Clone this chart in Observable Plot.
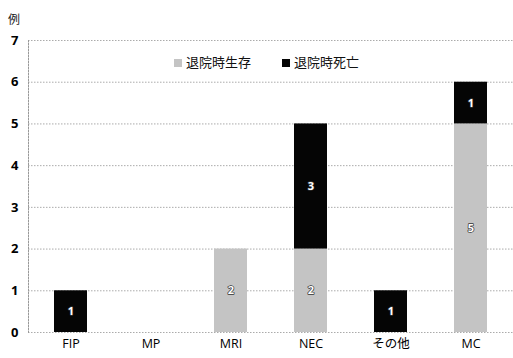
<!DOCTYPE html>
<html><head><meta charset="utf-8">
<script src="https://cdn.jsdelivr.net/npm/d3@7"></script>
<script src="https://cdn.jsdelivr.net/npm/@observablehq/plot@0.6"></script>
<style>
body{margin:0;background:#fff;font-family:"Noto Sans CJK JP","Open Sans",sans-serif;}
#wrap{position:relative;width:513px;height:358px;}
#unit{position:absolute;left:8px;top:10px;font-size:12px;color:#222;}
#legend{position:absolute;left:174px;top:52px;font-size:13px;color:#111;display:flex;align-items:center;gap:31px;white-space:nowrap;}
#legend span.sw{display:inline-block;width:8px;height:8px;margin-right:4px;vertical-align:middle;}
</style></head>
<body><div id="wrap"><div id="unit">例</div><div id="legend"></div></div>
<script>
const categories = ["FIP","MP","MRI","NEC","その他","MC"];
const seriesNames = ["退院時生存","退院時死亡"];
const survived = [0,0,2,2,0,5];
const died = [1,0,0,3,1,1];
const yTicks = [0,1,2,3,4,5,6,7];
const colors = ["#c4c4c4","#050505"];

const data = [];
categories.forEach((c,i)=>{
  data.push({cat:c, s:seriesNames[0], v:survived[i]});
  data.push({cat:c, s:seriesNames[1], v:died[i]});
});
const nz = data.filter(d=>d.v>0);

const chart = Plot.plot({
  width:513, height:358,
  marginTop:40, marginBottom:26, marginLeft:28, marginRight:0,
  style:{fontFamily:"'Open Sans','Noto Sans CJK JP',sans-serif", background:"transparent"},
  x:{domain:categories, paddingInner:0.59, paddingOuter:0.295, label:null, tickSize:0, tickPadding:7},
  y:{domain:[0,7], ticks:yTicks, tickFormat:"d", label:null, tickSize:0, tickPadding:10},
  color:{domain:seriesNames, range:colors},
  marks:[
    Plot.gridY(yTicks,{stroke:"#888", strokeOpacity:0.7, strokeDasharray:"1.5,1.5"}),
    Plot.frame({anchor:"left", stroke:"#999", strokeDasharray:"1.5,1.5"}),
    Plot.barY(nz, Plot.stackY({x:"cat", y:"v", fill:"s", order:seriesNames})),
    Plot.text(nz, Plot.stackY({x:"cat", y:"v", z:"s", order:seriesNames, text:d=>String(d.v), fill:"white", stroke:"#333", strokeWidth:1.4, paintOrder:"stroke", fontSize:11, fontWeight:"bold"}))
  ]
});
chart.querySelectorAll("g[aria-label='y-axis tick label'] text").forEach(t=>{t.style.fontWeight="bold";t.style.fontSize="13px";});
chart.querySelectorAll("g[aria-label='x-axis tick label'] text").forEach(t=>{t.style.fontSize="12.5px";});
document.getElementById("wrap").appendChild(chart);
chart.style.position="absolute";chart.style.left="0";chart.style.top="0";

const lg = document.getElementById("legend");
seriesNames.forEach((n,i)=>{
  const d=document.createElement("div");
  d.innerHTML=`<span class="sw" style="background:${colors[i]}"></span>${n}`;
  lg.appendChild(d);
});
document.getElementById("wrap").appendChild(lg);
</script></body></html>
